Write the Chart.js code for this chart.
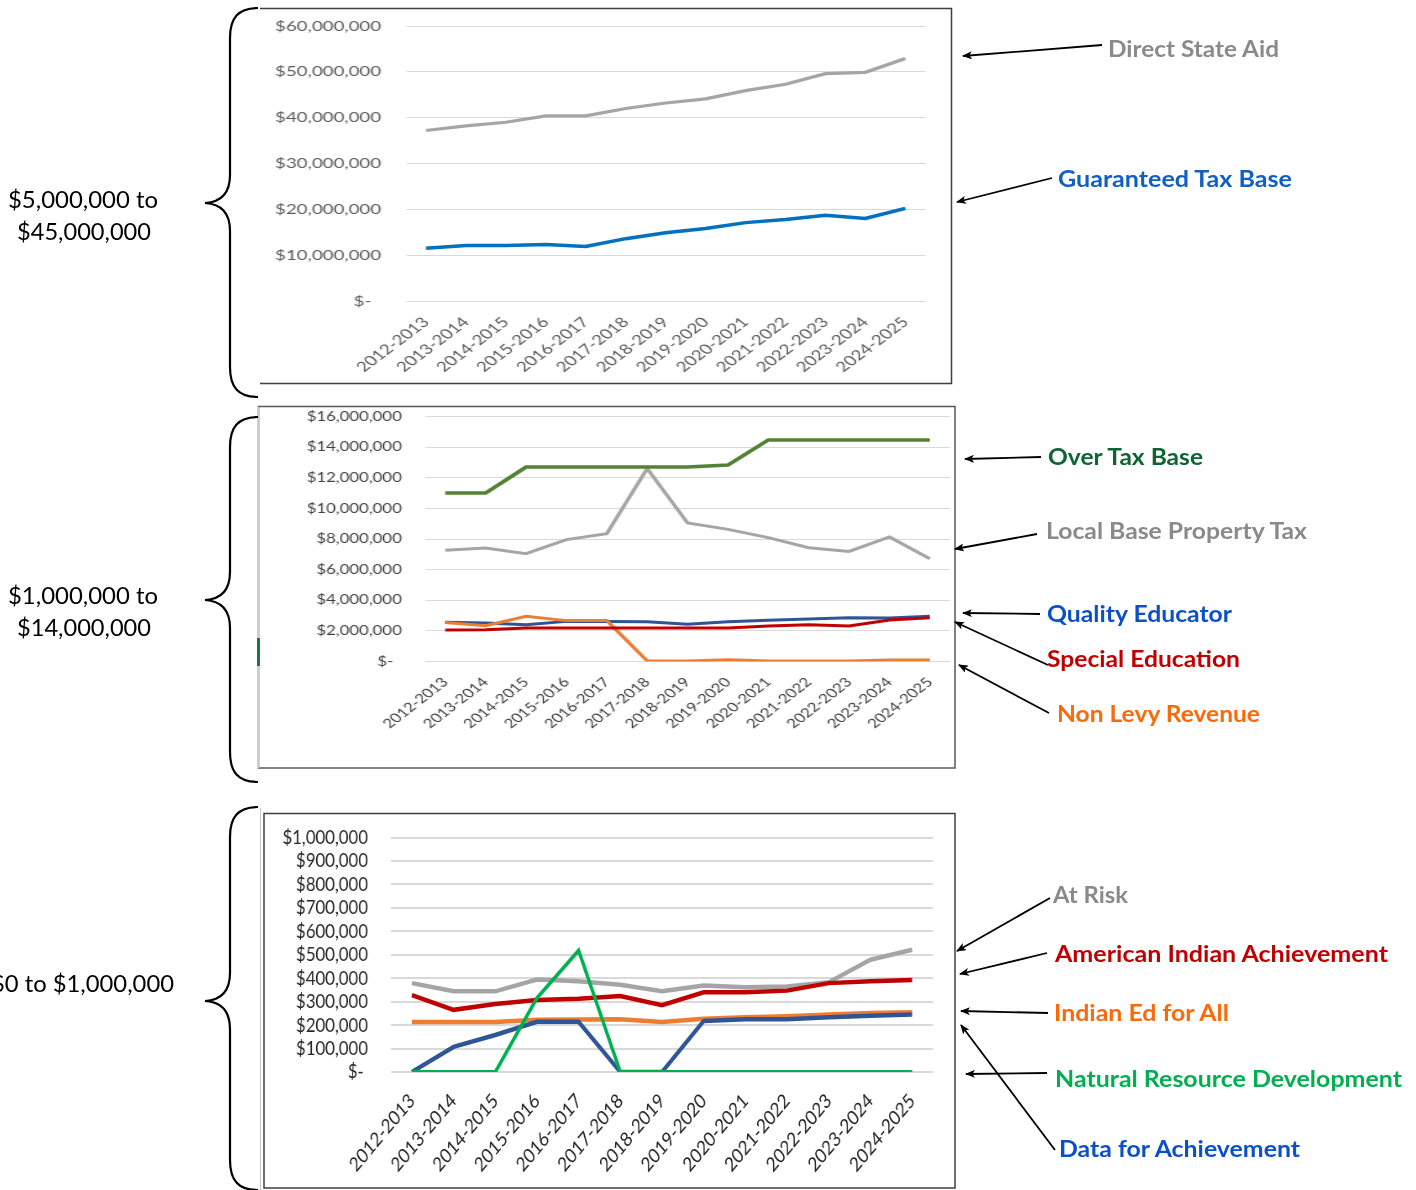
<!DOCTYPE html>
<html>
<head>
<meta charset="utf-8">
<script src="https://cdn.jsdelivr.net/npm/chart.js@4.4.1/dist/chart.umd.min.js"></script>
<style>
  body { margin: 0; background: #fff; width: 1416px; height: 1190px; overflow: hidden; position: relative; }
  .wrap { position: absolute; transform-origin: 0 0; }
  #overlay { position: absolute; left: 0; top: 0; z-index: 5; }
  .lbl { font-family: Lato, sans-serif; font-weight: 700; font-size: 23px; }
  .rng { font-family: Lato, sans-serif; font-size: 23px; fill: #000; }
</style>
</head>
<body>

<div class="wrap" style="left:260px; top:9px; transform:scaleX(1.3333)"><canvas id="chartTop" width="518" height="374"></canvas></div>
<div class="wrap" style="left:259px; top:407px; transform:scaleX(1.29)"><canvas id="chartMid" width="539" height="360"></canvas></div>
<div class="wrap" style="left:264px; top:814px; transform:scaleX(0.84)"><canvas id="chartLow" width="822" height="373"></canvas></div>

<svg id="overlay" width="1416" height="1190"></svg>

<script>
// school years shared by all three panels
const years = ['2012-2013', '2013-2014', '2014-2015', '2015-2016', '2016-2017', '2017-2018', '2018-2019',
               '2019-2020', '2020-2021', '2021-2022', '2022-2023', '2023-2024', '2024-2025'];

// $5,000,000 to $45,000,000
const directStateAid    = [37200000, 38200000, 39000000, 40400000, 40400000, 42000000, 43200000, 44100000, 45900000, 47300000, 49600000, 49900000, 52900000];
const guaranteedTaxBase = [11500000, 12100000, 12100000, 12300000, 11900000, 13600000, 14900000, 15800000, 17100000, 17800000, 18700000, 18000000, 20200000];

// $1,000,000 to $14,000,000
const overTaxBase          = [11000000, 11000000, 12700000, 12700000, 12700000, 12700000, 12700000, 12830000, 14470000, 14470000, 14470000, 14470000, 14470000];
const localBasePropertyTax = [7260000, 7410000, 7040000, 7960000, 8350000, 12600000, 9050000, 8630000, 8090000, 7430000, 7190000, 8130000, 6710000];
const qualityEducator      = [2560000, 2510000, 2400000, 2620000, 2620000, 2600000, 2430000, 2600000, 2690000, 2780000, 2860000, 2840000, 2950000];
const specialEducation     = [2050000, 2080000, 2190000, 2190000, 2190000, 2190000, 2190000, 2190000, 2320000, 2400000, 2320000, 2710000, 2860000];
const nonLevyRevenue       = [2540000, 2340000, 2950000, 2670000, 2670000, 40000, 40000, 110000, 40000, 40000, 40000, 100000, 100000];

// $0 to $1,000,000
const atRisk                     = [379000, 344000, 344000, 394000, 387000, 372000, 344000, 369000, 361000, 365000, 383000, 479000, 521000];
const americanIndianAchievement  = [328000, 265000, 290000, 307000, 312000, 324000, 285000, 340000, 340000, 347000, 379000, 387000, 392000];
const indianEdForAll             = [213000, 213000, 213000, 223000, 224000, 225000, 213000, 227000, 233000, 238000, 245000, 252000, 255000];
const dataForAchievement         = [0, 107000, 158000, 214000, 214000, 0, 0, 218000, 225000, 225000, 233000, 240000, 245000];
const naturalResourceDevelopment = [0, 0, 0, 315000, 518000, 0, 0, 0, 0, 0, 0, 0, 0];

function dinero(v, zero) {
  if (v === 0) return zero;
  return '$' + v.toLocaleString('en-US');
}

function lineChart(id, cfg) {
  const datasets = cfg.series.map(s => ({
    label: s.label, data: s.data, borderColor: s.color, borderWidth: s.width,
    pointRadius: 0, tension: 0, fill: false
  }));
  const font = { family: 'Lato', size: cfg.font };
  return new Chart(document.getElementById(id), {
    type: 'line',
    data: { labels: years, datasets: datasets },
    options: {
      responsive: false,
      animation: false,
      devicePixelRatio: 1,
      events: [],
      layout: { padding: { top: cfg.top, right: cfg.right, left: 0, bottom: 0 } },
      plugins: { legend: { display: false }, tooltip: { enabled: false } },
      scales: {
        x: {
          offset: true,
          grid: { display: false },
          border: { display: false },
          ticks: { autoSkip: false, minRotation: 45, maxRotation: 45, padding: cfg.xPad, color: cfg.ink, font: font },
          afterFit: sc => { sc.height = cfg.xHeight; }
        },
        y: {
          min: 0, max: cfg.max,
          border: { display: false },
          // invisible tick marks give the gap between labels and plot
          grid: { color: '#d9d9d9', lineWidth: cfg.gridW, drawTicks: true, tickLength: cfg.yPad, tickColor: 'rgba(0,0,0,0)' },
          ticks: { stepSize: cfg.step, autoSkip: false, padding: 0, color: cfg.ink, font: font,
                   callback: v => dinero(v, cfg.zero) },
          afterFit: sc => { sc.width = cfg.yWidth; }
        }
      }
    }
  });
}

lineChart('chartTop', {
  max: 60000000, step: 10000000, font: 14, ink: '#595959', gridW: 1, zero: '$-  ',
  top: 17, right: 19, yWidth: 109.5, yPad: 18.7, xHeight: 82, xPad: 5,
  series: [
    { label: 'Guaranteed Tax Base', data: guaranteedTaxBase, color: '#0070c0', width: 3.5 },
    { label: 'Direct State Aid', data: directStateAid, color: '#a5a5a5', width: 3.2 }
  ]
});

lineChart('chartMid', {
  max: 16000000, step: 2000000, font: 13, ink: '#404040', gridW: 1, zero: '$-  ',
  top: 9.5, right: 3.3, yWidth: 128.7, yPad: 18, xHeight: 105.5, xPad: 5,
  series: [
    { label: 'Over Tax Base', data: overTaxBase, color: '#548235', width: 3.5 },
    { label: 'Special Education', data: specialEducation, color: '#c00000', width: 3 },
    { label: 'Non Levy Revenue', data: nonLevyRevenue, color: '#ed7d31', width: 3 },
    { label: 'Quality Educator', data: qualityEducator, color: '#2f5597', width: 3 },
    { label: 'Local Base Property Tax', data: localBasePropertyTax, color: '#a5a5a5', width: 3 }
  ]
});

lineChart('chartLow', {
  max: 1000000, step: 100000, font: 20, ink: '#262626', gridW: 2, zero: '$- ',
  top: 23.5, right: 25.6, yWidth: 151.2, yPad: 27.4, xHeight: 115, xPad: 9,
  series: [
    { label: 'Natural Resource Development', data: naturalResourceDevelopment, color: '#00b050', width: 4 },
    { label: 'Data for Achievement', data: dataForAchievement, color: '#2f5597', width: 4.5 },
    { label: 'Indian Ed for All', data: indianEdForAll, color: '#ed7d31', width: 4.5 },
    { label: 'American Indian Achievement', data: americanIndianAchievement, color: '#c00000', width: 4.5 },
    { label: 'At Risk', data: atRisk, color: '#a5a5a5', width: 4.5 }
  ]
});

// ---- annotations: frames, braces, arrows and labels ----
const NS = 'http://www.w3.org/2000/svg';
const svg = document.getElementById('overlay');

function el(tag, attrs, text) {
  const e = document.createElementNS(NS, tag);
  for (const k in attrs) e.setAttribute(k, attrs[k]);
  if (text) e.textContent = text;
  svg.appendChild(e);
  return e;
}

const defs = el('defs', {});
const marker = document.createElementNS(NS, 'marker');
[['id', 'head'], ['markerWidth', 10], ['markerHeight', 8], ['refX', 9], ['refY', 4],
 ['orient', 'auto'], ['markerUnits', 'userSpaceOnUse']].forEach(([k, v]) => marker.setAttribute(k, v));
const tri = document.createElementNS(NS, 'path');
tri.setAttribute('d', 'M0,0 L10,4 L0,8 L2.5,4 Z');
tri.setAttribute('fill', '#000');
marker.appendChild(tri);
defs.appendChild(marker);

// chart frames
el('path', { d: 'M260,8.5 H951.5 V383.5 H260', fill: 'none', stroke: '#3f3f3f', 'stroke-width': 1.5 });
el('rect', { x: 258.5, y: 406.5, width: 696.5, height: 361.5, fill: 'none', stroke: '#595959', 'stroke-width': 1.5 });
el('line', { x1: 258.5, y1: 407, x2: 258.5, y2: 768, stroke: '#c8c8c8', 'stroke-width': 1.5 });
el('rect', { x: 257, y: 638, width: 3, height: 28, fill: '#217346' });
el('rect', { x: 264, y: 813.5, width: 691, height: 374.5, fill: 'none', stroke: '#3f3f3f', 'stroke-width': 1.5 });
el('line', { x1: 260.5, y1: 808, x2: 260.5, y2: 1190, stroke: '#c8c8c8', 'stroke-width': 1 });

function brace(top, mid, bottom) {
  const d = `M258,${top} C238,${top} 230,${top + 10} 230,${top + 30} L230,${mid - 28} ` +
            `C230,${mid - 10} 222,${mid - 1} 205,${mid} C222,${mid + 1} 230,${mid + 10} 230,${mid + 28} ` +
            `L230,${bottom - 30} C230,${bottom - 10} 238,${bottom} 258,${bottom}`;
  el('path', { d: d, fill: 'none', stroke: '#000', 'stroke-width': 2.2 });
}
brace(8, 203, 397);
brace(417, 600, 782);
brace(807, 1001, 1190);

// range captions on the left
const rangos = [
  ['$5,000,000 to', 8, 208, 150], ['$45,000,000', 17, 240, 134],
  ['$1,000,000 to', 8, 604, 150], ['$14,000,000', 17, 636, 134],
  ['$0 to $1,000,000', -9, 992, 183]
];
rangos.forEach(([t, x, y, w]) => el('text', { x: x, y: y, class: 'rng', textLength: w, lengthAdjust: 'spacingAndGlyphs' }, t));

// series labels with arrows: text, x, baseline, width, colour, arrow from, arrow to
const notas = [
  ['Direct State Aid', 1108, 57, 171, '#8a8a8a', [1102, 45], [963, 56]],
  ['Guaranteed Tax Base', 1058, 187, 234, '#0f5fc4', [1052, 178], [957, 202]],
  ['Over Tax Base', 1048, 465, 155, '#0d6531', [1041, 457], [965, 459]],
  ['Local Base Property Tax', 1046, 539, 261, '#8a8a8a', [1037, 534], [955, 549]],
  ['Quality Educator', 1047, 622, 185, '#0b50c8', [1040, 614], [963, 613]],
  ['Special Education', 1047, 667, 193, '#c00000', [1048, 665], [955, 622]],
  ['Non Levy Revenue', 1057, 722, 203, '#fa6a0a', [1049, 713], [959, 665]],
  ['At Risk', 1053, 903, 75, '#8a8a8a', [1050, 898], [957, 951]],
  ['American Indian Achievement', 1055, 962, 333, '#c00000', [1047, 953], [960, 974]],
  ['Indian Ed for All', 1054, 1021, 175, '#fa6a0a', [1048, 1013], [961, 1011]],
  ['Natural Resource Development', 1055, 1087, 347, '#00b050', [1047, 1073], [966, 1074]],
  ['Data for Achievement', 1059, 1157, 241, '#0b50c8', [1055, 1150], [961, 1025]]
];
notas.forEach(([t, x, y, w, c, a, b]) => {
  el('line', { x1: a[0], y1: a[1], x2: b[0], y2: b[1], stroke: '#000', 'stroke-width': 1.8, 'marker-end': 'url(#head)' });
  el('text', { x: x, y: y, class: 'lbl', fill: c, textLength: w, lengthAdjust: 'spacingAndGlyphs' }, t);
});
</script>
</body>
</html>
